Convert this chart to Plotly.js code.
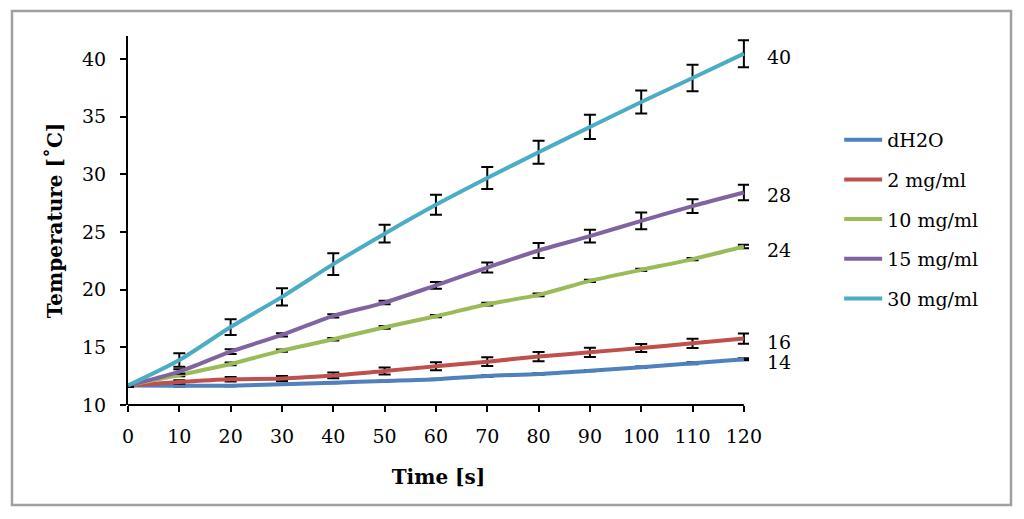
<!DOCTYPE html>
<html>
<head>
<meta charset="utf-8">
<script src="https://cdn.plot.ly/plotly-3.0.1.min.js"></script>
<style>
  html, body { margin: 0; padding: 0; background: #fff; }
  #chart { width: 1024px; height: 519px; }
</style>
</head>
<body>
<div id="chart"></div>
<script>
// ---- data ----
const times = [0, 10, 20, 30, 40, 50, 60, 70, 80, 90, 100, 110, 120];
const seriesNames = ['dH2O', '2 mg/ml', '10 mg/ml', '15 mg/ml', '30 mg/ml'];
const dH2O   = [11.7, 11.66, 11.68, 11.8, 11.94, 12.08, 12.23, 12.52, 12.69, 12.98, 13.27, 13.62, 13.97];
const mg2    = [11.7, 12.0, 12.23, 12.3, 12.56, 12.95, 13.36, 13.76, 14.2, 14.57, 14.95, 15.35, 15.76];
const mg10   = [11.7, 12.6, 13.56, 14.72, 15.7, 16.74, 17.7, 18.74, 19.55, 20.76, 21.72, 22.65, 23.74];
const mg15   = [11.7, 12.9, 14.63, 16.08, 17.73, 18.88, 20.38, 21.92, 23.4, 24.64, 25.97, 27.25, 28.43];
const mg30   = [11.7, 13.9, 16.76, 19.38, 22.22, 24.86, 27.36, 29.68, 31.92, 34.11, 36.28, 38.36, 40.47];
const errH2O = [0.12, 0.05, 0.05, 0.05, 0.05, 0.05, 0.05, 0.06, 0.06, 0.06, 0.06, 0.08, 0.08];
const err2   = [0.12, 0.15, 0.2, 0.22, 0.25, 0.3, 0.35, 0.38, 0.4, 0.4, 0.35, 0.4, 0.45];
const err10  = [0.12, 0.1, 0.12, 0.1, 0.1, 0.12, 0.1, 0.12, 0.12, 0.1, 0.1, 0.1, 0.15];
const err15  = [0.12, 0.2, 0.2, 0.15, 0.15, 0.15, 0.29, 0.43, 0.65, 0.55, 0.72, 0.6, 0.68];
const err30  = [0.12, 0.58, 0.68, 0.75, 0.94, 0.77, 0.87, 0.95, 1.0, 1.05, 1.0, 1.15, 1.17];
const endLabels = ['14', '16', '24', '28', '40'];
const xTickVals = [0, 10, 20, 30, 40, 50, 60, 70, 80, 90, 100, 110, 120];
const yTickVals = [10, 15, 20, 25, 30, 35, 40];

const values = [dH2O, mg2, mg10, mg15, mg30];
const errors = [errH2O, err2, err10, err15, err30];
const colors = ['#4F81BD', '#C0504D', '#9BBB59', '#8064A2', '#4BACC6'];
const FONT = 'DejaVu Serif, Liberation Serif, serif';
const xMin = xTickVals[0];
const xMax = xTickVals[xTickVals.length - 1];

const traces = values.map((v, i) => ({
  type: 'scatter',
  mode: 'lines',
  x: times,
  y: v,
  name: seriesNames[i],
  legendgroup: 'g' + i,
  cliponaxis: false,
  line: { color: colors[i], width: 4, shape: 'spline', smoothing: 0.8 },
  error_y: { type: 'data', array: errors[i], visible: true, color: '#000', thickness: 2, width: 6 },
  hoverinfo: 'x+y+name'
}));

const annotations = values.map((v, i) => ({
  x: times[times.length - 1],
  y: v[v.length - 1],
  xref: 'x', yref: 'y',
  text: endLabels[i],
  showarrow: false,
  xanchor: 'left',
  yanchor: 'middle',
  xshift: 21,
  yshift: -3,
  font: { family: FONT, size: 19, color: '#000' }
}));

const layout = {
  width: 1024,
  height: 519,
  margin: { l: 128, r: 275, t: 36, b: 114 },
  paper_bgcolor: '#fff',
  plot_bgcolor: '#fff',
  font: { family: FONT, size: 19, color: '#000' },
  showlegend: true,
  legend: {
    x: 1.1452, y: 0.77, xanchor: 'left', yanchor: 'top',
    font: { family: FONT, size: 19, color: '#000' },
    itemwidth: 38,
    tracegroupgap: 12,
    bgcolor: 'rgba(0,0,0,0)'
  },
  xaxis: {
    range: [xMin, xMax + 1],
    tickvals: xTickVals,
    ticktext: xTickVals.map(String),
    showgrid: false, zeroline: false,
    showline: false,
    ticks: 'outside', ticklen: 6, tickwidth: 2, tickcolor: '#000',
    ticklabelstandoff: 8,
    title: { text: '<b>Time [s]</b>', font: { family: FONT, size: 20 }, standoff: 24 },
    automargin: false
  },
  yaxis: {
    range: [10, 42],
    tickvals: yTickVals,
    ticktext: yTickVals.map(String),
    showgrid: false, zeroline: false,
    showline: true, linecolor: '#000', linewidth: 2,
    ticks: 'outside', ticklen: 6, tickwidth: 2, tickcolor: '#000',
    ticklabelstandoff: 10,
    title: { text: '<b>Temperature [˚C]</b>', font: { family: FONT, size: 20 }, standoff: 14 },
    automargin: false
  },
  annotations: annotations,
  shapes: [
    {
      type: 'rect', xref: 'paper', yref: 'paper',
      x0: -0.1868, x1: 1.4219, y0: -0.271, y1: 1.0678,
      line: { color: '#A0A0A0', width: 2.5 },
      layer: 'below'
    },
    {
      type: 'line', xref: 'x', yref: 'paper',
      x0: xMin, x1: xMax, y0: 0, y1: 0,
      line: { color: '#000', width: 2 },
      layer: 'above'
    }
  ]
};

Plotly.newPlot('chart', traces, layout, { displayModeBar: false, staticPlot: true });
</script>
</body>
</html>
